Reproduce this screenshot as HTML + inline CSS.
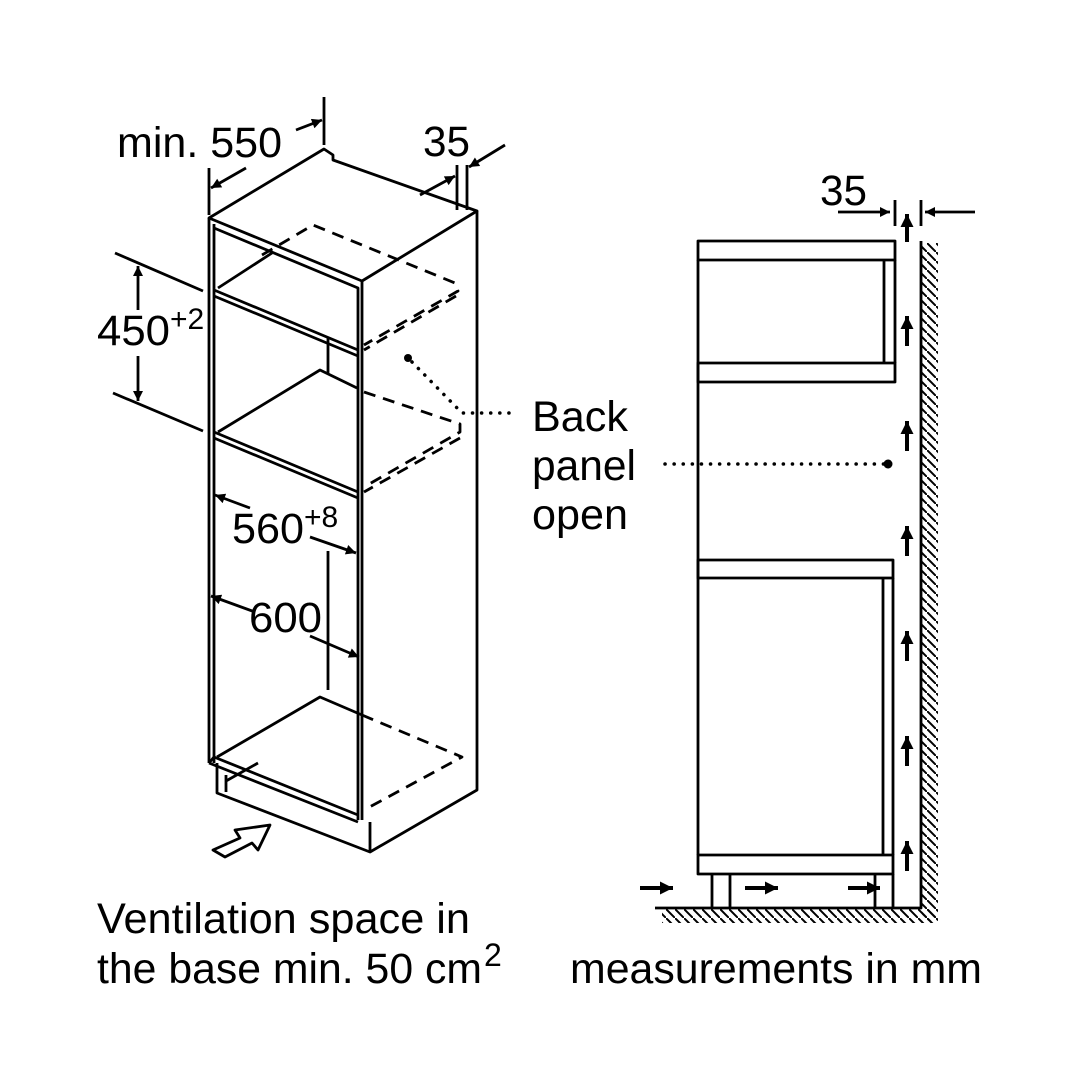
<!DOCTYPE html>
<html><head><meta charset="utf-8"><style>html,body{margin:0;padding:0;background:#fff}svg{display:block}</style></head>
<body>
<svg width="1080" height="1080" viewBox="0 0 1080 1080" xmlns="http://www.w3.org/2000/svg" font-family="Liberation Sans, sans-serif">
<defs>
<marker id="a" viewBox="0 0 10 10" refX="10" refY="5" markerWidth="16" markerHeight="10" orient="auto-start-reverse" markerUnits="userSpaceOnUse"><path d="M0,0L10,5L0,10z" fill="#000"/></marker>
<marker id="b" viewBox="0 0 10 10" refX="10" refY="5" markerWidth="14" markerHeight="13" orient="auto" markerUnits="userSpaceOnUse"><path d="M0,0L10,5L0,10z" fill="#000"/></marker>
<pattern id="h" width="9" height="9" patternUnits="userSpaceOnUse"><path d="M-1,-1L10,10" stroke="#000" stroke-width="2"/></pattern>
</defs>
<g fill="none" stroke="#000" stroke-width="2.8" stroke-linejoin="round">
<!-- left cabinet -->
<path d="M209,218 L324,149 L333,155 L333,160 L477,211 L362,281 Z" fill="#fff"/>
<path d="M209,218 L209,763 M214,224 L214,763"/>
<path d="M214,228 L358,288 L358,820 M362,281 L362,820 M477,211 L477,757"/>
<path d="M214,290 L358,350 M214,296 L358,356"/>
<path d="M214,432 L358,492 M214,438 L358,498"/>
<path d="M218,288 L272,253"/>
<path d="M218,432 L320,370 L357,388"/>
<path d="M328,338 L328,373 M328,551 L328,690"/>
<path d="M217,757 L320,697 L362,715"/>
<path d="M209,763 L358,822 M217,763 L217,793 L370,852 L477,790 L477,757 M370,822 L370,852 M226,775 L226,792 M226,781 L258,763"/>
<path d="M209,763 L214,757 L358,815"/>
<g stroke-dasharray="12,8">
<path d="M262,255 L313,225 L455,283 L458,291 L364,345 M456,296 L364,350"/>
<path d="M364,392 L460,424 L460,432 L364,487 M460,438 L364,492"/>
<path d="M362,715 L462,757 L364,810"/>
</g>
<!-- dims left -->
<path d="M209,215 L209,168 M324,145 L324,97"/>
<path d="M246,168 L211,188" marker-end="url(#a)"/>
<path d="M296,130 L322,120" marker-end="url(#a)"/>
<path d="M457,210 L457,165 M467,210 L467,165"/>
<path d="M420,195 L455,176" marker-end="url(#a)"/>
<path d="M505,145 L469,167" marker-end="url(#a)"/>
<path d="M115,253 L203,291 M113,393 L203,431"/>
<path d="M138,310 L138,266" marker-end="url(#a)"/>
<path d="M138,356 L138,401" marker-end="url(#a)"/>
<path d="M250,508 L215,495" marker-end="url(#a)"/>
<path d="M310,537 L356,553" marker-end="url(#a)"/>
<path d="M255,612 L211,596" marker-end="url(#a)"/>
<path d="M310,636 L359,657" marker-end="url(#a)"/>
<path d="M213,850 L240,838 L235,830 L270,825 L258,850 L252,843 L225,857 Z" fill="#fff"/>
<!-- right cabinet -->
<rect x="698" y="241" width="197" height="19"/>
<rect x="698" y="363" width="197" height="19"/>
<path d="M884,260 L884,363 M895,260 L895,363"/>
<rect x="698" y="560" width="195" height="18"/>
<rect x="698" y="855" width="195" height="19"/>
<path d="M698,260 L698,855 M883,578 L883,855 M893,578 L893,855"/>
<path d="M712,874 L712,908 M730,874 L730,908 M875,874 L875,908 M893,874 L893,908"/>
<path d="M655,908 L921,908 L921,241"/>
<path d="M838,212 L890,212" marker-end="url(#a)"/>
<path d="M975,212 L925,212" marker-end="url(#a)"/>
<path d="M895,200 L895,226 M921,200 L921,226"/>
</g>
<rect x="922" y="243" width="16" height="678" fill="url(#h)"/>
<rect x="662" y="909" width="275" height="14" fill="url(#h)"/>
<g stroke="#000" stroke-width="4" fill="none">
<path d="M907,242 L907,214" marker-end="url(#b)"/>
<path d="M907,346 L907,316" marker-end="url(#b)"/>
<path d="M907,451 L907,421" marker-end="url(#b)"/>
<path d="M907,556 L907,526" marker-end="url(#b)"/>
<path d="M907,661 L907,631" marker-end="url(#b)"/>
<path d="M907,766 L907,736" marker-end="url(#b)"/>
<path d="M907,871 L907,841" marker-end="url(#b)"/>
<path d="M640,888 L673,888" marker-end="url(#b)"/>
<path d="M745,888 L778,888" marker-end="url(#b)"/>
<path d="M848,888 L880,888" marker-end="url(#b)"/>
</g>
<g stroke="#000" stroke-width="3.5" stroke-dasharray="0.1,9" stroke-linecap="round" fill="none">
<path d="M412,362 L462,413 L515,413"/>
<path d="M665,464 L886,464"/>
</g>
<circle cx="408" cy="358" r="4"/><circle cx="888" cy="464" r="4.5"/>
<g font-size="43" fill="#000">
<text x="117" y="157" textLength="165" lengthAdjust="spacingAndGlyphs">min. 550</text>
<text x="423" y="156" textLength="47" lengthAdjust="spacingAndGlyphs">35</text>
<text x="820" y="205" textLength="47" lengthAdjust="spacingAndGlyphs">35</text>
<text x="97" y="345"><tspan textLength="73" lengthAdjust="spacingAndGlyphs">450</tspan><tspan font-size="30" dy="-16">+2</tspan></text>
<text x="232" y="543"><tspan textLength="72" lengthAdjust="spacingAndGlyphs">560</tspan><tspan font-size="30" dy="-16">+8</tspan></text>
<text x="249" y="632" textLength="73" lengthAdjust="spacingAndGlyphs">600</text>
<text x="532" y="431" textLength="96" lengthAdjust="spacingAndGlyphs">Back</text>
<text x="532" y="480" textLength="104" lengthAdjust="spacingAndGlyphs">panel</text>
<text x="532" y="529" textLength="96" lengthAdjust="spacingAndGlyphs">open</text>
<text x="97" y="933" textLength="373" lengthAdjust="spacingAndGlyphs">Ventilation space in</text>
<text x="97" y="983" textLength="385" lengthAdjust="spacingAndGlyphs">the base min. 50 cm</text>
<text x="484" y="966" font-size="32">2</text>
<text x="570" y="983" textLength="412" lengthAdjust="spacingAndGlyphs">measurements in mm</text>
</g>
</svg>
</body></html>
